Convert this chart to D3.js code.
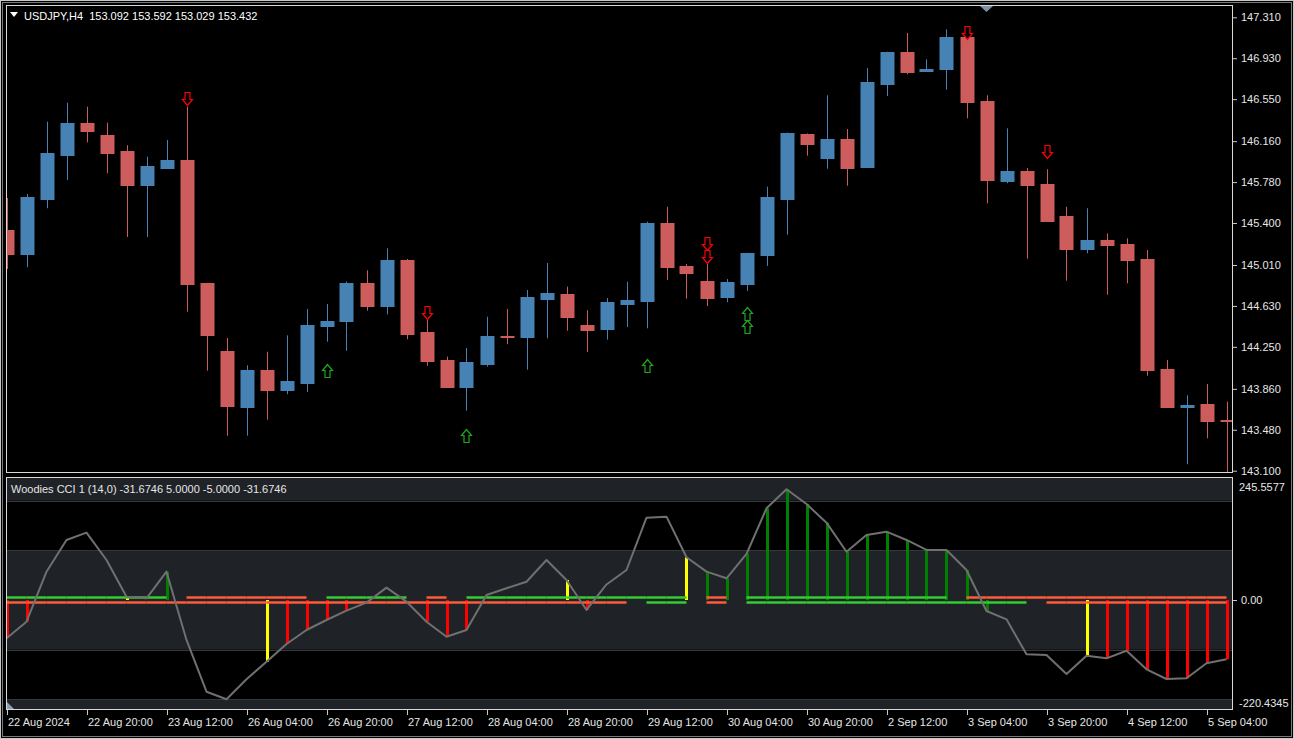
<!DOCTYPE html>
<html><head><meta charset="utf-8">
<script src="https://cdn.jsdelivr.net/npm/d3@7"></script>
<style>html,body{margin:0;padding:0;background:#000;overflow:hidden}text{font-family:"Liberation Sans",Arial,sans-serif;font-size:11px;white-space:pre}</style>
</head><body><svg id="c" width="1294" height="739"></svg>
<script>
// ---------- data ----------
const openP  = [145.335,145.112,145.623,146.029,146.326,146.220,146.069,145.750,145.914,145.988,144.840,144.212,143.698,144.038,143.849,143.917,144.441,144.487,144.840,144.627,145.057,144.385,144.131,143.871,144.091,144.351,144.335,144.694,144.744,144.453,144.416,144.651,144.669,145.397,145.001,144.862,144.707,144.834,145.100,145.623,146.229,146.006,146.183,145.914,146.691,146.985,146.809,146.830,147.124,146.530,145.787,145.880,145.765,145.465,145.161,145.242,145.208,145.069,144.047,143.692,143.722,143.571];
const highP  = [145.632,145.669,146.341,146.517,146.480,146.331,146.122,146.016,146.171,146.480,144.845,144.332,144.079,144.205,144.357,144.602,144.648,144.855,144.961,145.165,145.066,144.499,144.159,144.239,144.530,144.602,144.778,145.029,144.809,144.590,144.704,144.855,145.412,145.551,145.019,145.038,144.880,145.124,145.737,146.240,146.232,146.586,146.273,146.839,146.990,147.164,146.920,147.199,147.155,146.586,146.279,145.911,145.899,145.551,145.537,145.304,145.258,145.149,144.128,143.800,143.905,143.741];
const lowP   = [144.973,144.989,145.537,145.799,146.149,145.862,145.270,145.270,145.901,144.577,144.029,143.425,143.425,143.574,143.810,143.831,144.298,144.214,144.586,144.552,144.320,144.075,143.875,143.657,144.066,144.274,144.038,144.330,144.400,144.202,144.317,144.434,144.422,144.871,144.697,144.629,144.664,144.769,145.001,145.291,146.025,145.904,145.746,145.910,146.579,146.781,146.805,146.638,146.372,145.583,145.769,145.069,145.420,144.864,145.119,144.734,144.840,143.982,143.690,143.160,143.401,143.076];
const closeP = [145.112,145.639,146.047,146.326,146.252,146.053,145.750,145.929,145.988,144.836,144.360,143.698,144.038,143.849,143.933,144.456,144.490,144.840,144.627,145.057,144.372,144.116,143.880,144.107,144.351,144.339,144.710,144.747,144.530,144.407,144.664,144.688,145.397,144.985,144.939,144.707,144.849,145.119,145.639,146.233,146.134,146.183,145.914,146.706,146.985,146.796,146.827,147.124,146.517,145.797,145.880,145.753,145.425,145.159,145.242,145.196,145.057,144.035,143.694,143.706,143.562,143.560];

const downArrowIdx   = [9, 21, 35, 35, 48, 52];
const downArrowPrice = [146.496, 144.509, 145.149, 145.029, 147.106, 146.006];
const upArrowIdx     = [16, 23, 32, 37, 37];
const upArrowPrice   = [144.091, 143.487, 144.137, 144.623, 144.499];

const cciValues = [-77.1,-43.7,57.0,120.8,135.5,80.5,6.6,3.4,57.0,-80.5,-184.6,-199.9,-159.6,-124.2,-88.6,-60.4,-40.3,-21.5,-5.4,24.8,-3.4,-43.7,-73.9,-60.4,10.1,23.6,36.8,80.5,40.3,-20.1,31.2,60.4,165.7,167.7,86.0,57.0,43.7,92.6,184.6,222.8,193.2,155.6,97.2,130.8,137.5,120.8,100.7,100.7,60.4,-22.1,-38.9,-109.3,-110.7,-148.9,-112.1,-117.4,-102.1,-139.5,-159.0,-157.6,-127.4,-119.4];
const histState  = "rr----y-g----yrrrr---rrr----yr----yggggggggggggggg----yrrrrrrrr".split("");
const upperState = "gggggggggrrrrrrrgggggrrggggggggggggrrgggggggggggrrrrrrrrrrrrrr".split("");
const lowerState = "rrrrrrrrrrrrrrrrrrrrrrrrrrrrrrrrgggrrgggggggggggggggrrrrrrrrrr".split("");
const levelUp = 5, levelDn = -5;
const bandLevels = [100, 200];

const priceTicks = ["147.310","146.930","146.550","146.160","145.780","145.400","145.010","144.630","144.250","143.860","143.480","143.100"];
const cciTicks = ["245.5577","0.00","-220.4345"];
const cciDomain = [-220.4345, 245.5577];
const timeLabels = ["22 Aug 2024","22 Aug 20:00","23 Aug 12:00","26 Aug 04:00","26 Aug 20:00","27 Aug 12:00","28 Aug 04:00","28 Aug 20:00","29 Aug 12:00","30 Aug 04:00","30 Aug 20:00","2 Sep 12:00","3 Sep 04:00","3 Sep 20:00","4 Sep 12:00","5 Sep 04:00"];
const labelEvery = 4;
const headerText = "USDJPY,H4  153.092 153.592 153.029 153.432";
const cciTitle = "Woodies CCI 1 (14,0) -31.6746 5.0000 -5.0000 -31.6746";

// ---------- layout ----------
const L = 6, R = 1233, mT = 5, mB = 473, cT = 477, cB = 710;
const n = openP.length;
const x = d3.scaleLinear().domain([0, n - 1]).range([6.5, 6.5 + 20 * (n - 1)]);
const y = d3.scaleLinear().domain([143.100, 147.310]).range([470.7, 17.3]);
const yc = d3.scaleLinear().domain(cciDomain).range([709.5, 478]);

const BULL = "#4682b4", BEAR = "#cd5c5c";
const svg = d3.select("#c");
svg.append("rect").attr("width",1294).attr("height",739).attr("fill","#000");

const defs = svg.append("defs");
defs.append("clipPath").attr("id","cm").append("rect").attr("x",L+0.5).attr("y",mT+0.5).attr("width",R-L-1).attr("height",mB-mT-1);
defs.append("clipPath").attr("id","cc").append("rect").attr("x",L+0.5).attr("y",cT+0.5).attr("width",R-L-1).attr("height",cB-cT-1);

// ---------- main panel ----------
const gm = svg.append("g").attr("clip-path","url(#cm)");
const bars = d3.range(n);
gm.selectAll("line.wick").data(bars).join("line")
  .attr("x1", i => Math.round(x(i)) + 0.5).attr("x2", i => Math.round(x(i)) + 0.5)
  .attr("y1", i => y(highP[i])).attr("y2", i => y(lowP[i]))
  .attr("stroke", i => closeP[i] > openP[i] ? BULL : BEAR).attr("stroke-width",1);
gm.selectAll("rect.body").data(bars).join("rect")
  .attr("x", i => Math.round(x(i)) - 6)
  .attr("width", 13)
  .attr("y", i => Math.round(y(Math.max(openP[i], closeP[i]))) + 0.5)
  .attr("height", i => Math.max(1, Math.round(Math.abs(y(openP[i]) - y(closeP[i])))))
  .attr("fill", i => closeP[i] > openP[i] ? BULL : BEAR)
  .attr("stroke", i => closeP[i] > openP[i] ? BULL : BEAR).attr("stroke-width",1);

const downArrow = "M0,0 L-5,-6 L-2.5,-6 L-2.5,-13 L2.5,-13 L2.5,-6 L5,-6 Z";
const upArrow = "M0,0 L-5,6 L-2.5,6 L-2.5,13 L2.5,13 L2.5,6 L5,6 Z";
gm.selectAll("path.dn").data(downArrowIdx).join("path")
  .attr("d", downArrow)
  .attr("transform", (d,k) => `translate(${Math.round(x(d))+0.5},${Math.round(y(downArrowPrice[k]))+0.5})`)
  .attr("fill","#000").attr("stroke","#ff0000").attr("stroke-width",1.2);
gm.selectAll("path.up").data(upArrowIdx).join("path")
  .attr("d", upArrow)
  .attr("transform", (d,k) => `translate(${Math.round(x(d))+0.5},${Math.round(y(upArrowPrice[k]))+0.5})`)
  .attr("fill","#000").attr("stroke","#1ea81e").attr("stroke-width",1.2);

// ---------- CCI panel ----------
const gc = svg.append("g").attr("clip-path","url(#cc)");
const bandTop = [[cciDomain[1], bandLevels[1]], [bandLevels[0], -bandLevels[0]], [-bandLevels[1], cciDomain[0]]];
gc.selectAll("rect.band").data(bandTop).join("rect")
  .attr("x", L).attr("width", R - L)
  .attr("y", d => yc(d[0])).attr("height", d => yc(d[1]) - yc(d[0]))
  .attr("fill", "#1f2226");
gc.selectAll("line.bl").data([bandLevels[1], bandLevels[0], -bandLevels[0], -bandLevels[1]]).join("line")
  .attr("x1", L).attr("x2", R).attr("y1", d => Math.round(yc(d)) + 0.5).attr("y2", d => Math.round(yc(d)) + 0.5)
  .attr("stroke", "#34373c").attr("stroke-width", 1);

const histCol = {r:"#ff0000", g:"#008000", y:"#ffff00"};
gc.selectAll("rect.hist").data(bars.filter(i => histState[i] !== "-")).join("rect")
  .attr("x", i => Math.round(x(i)) - 1)
  .attr("width", 3)
  .attr("y", i => Math.min(yc(0), yc(cciValues[i])))
  .attr("height", i => Math.abs(yc(cciValues[i]) - yc(0)))
  .attr("fill", i => histCol[histState[i]]);

const lvlCol = {g:"#32cd32", r:"#ff5a3a"};
function levelSegs(state, level) {
  const segs = [];
  for (let i = 0; i < n - 1; i++) if (state[i] === state[i+1]) segs.push({i, c: state[i], v: level});
  return segs;
}
gc.selectAll("line.lvlU").data(levelSegs(upperState, levelUp)).join("line")
  .attr("x1", d => x(d.i)).attr("x2", d => x(d.i + 1))
  .attr("y1", d => yc(d.v)).attr("y2", d => yc(d.v))
  .attr("stroke", d => lvlCol[d.c]).attr("stroke-width", 2.5);
gc.selectAll("line.lvlD").data(levelSegs(lowerState, levelDn)).join("line")
  .attr("x1", d => x(d.i)).attr("x2", d => x(d.i + 1))
  .attr("y1", d => yc(d.v)).attr("y2", d => yc(d.v))
  .attr("stroke", d => lvlCol[d.c]).attr("stroke-width", 2.5);

gc.append("path").datum(cciValues)
  .attr("d", d3.line().x((d,i) => x(i)).y(d => yc(d)))
  .attr("fill","none").attr("stroke","#707070").attr("stroke-width",2).attr("stroke-linejoin","round");

// ---------- frames ----------
svg.append("rect").attr("x",0.5).attr("y",0.5).attr("width",1293).attr("height",738).attr("fill","none").attr("stroke","#c8c8c8");
svg.append("rect").attr("x",2.5).attr("y",2.5).attr("width",1289).attr("height",734).attr("fill","none").attr("stroke","#7a7a7a");
svg.append("rect").attr("x",L+0.5).attr("y",mT+0.5).attr("width",R-L-1).attr("height",mB-mT-1).attr("fill","none").attr("stroke","#d8d8d8");
svg.append("rect").attr("x",L+0.5).attr("y",cT+0.5).attr("width",R-L-1).attr("height",cB-cT-1).attr("fill","none").attr("stroke","#d8d8d8");

// ---------- axes ----------
const yAxis = d3.axisRight(y).tickValues(priceTicks.map(Number)).tickFormat((d,i) => priceTicks[i]).tickSize(4).tickPadding(4);
const ga = svg.append("g").attr("transform", `translate(${R},0)`).call(yAxis);
ga.select(".domain").remove();
ga.selectAll("line").attr("stroke","#c8c8c8");
ga.selectAll("text").attr("fill","#e6e6e6").style("font-family",'"Liberation Sans",Arial,sans-serif').style("font-size","11px");

// CCI axis labels
const cciLabelY = [cT + 10, yc(0), cB - 7];
svg.selectAll("text.cl").data(cciTicks).join("text")
  .attr("x", (d,i) => i === 1 ? R + 8 : R + 6).attr("y", (d,i) => cciLabelY[i]).attr("dy","0.35em")
  .attr("fill","#e6e6e6").text(d => d);
svg.append("line").attr("x1",R).attr("x2",R+4).attr("y1",Math.round(yc(0))+0.5).attr("y2",Math.round(yc(0))+0.5).attr("stroke","#c8c8c8");

// time axis
const tickIdx = timeLabels.map((d,k) => k * labelEvery);
const xt = svg.append("g");
xt.selectAll("line").data(tickIdx).join("line")
  .attr("x1", i => Math.round(x(i)) + 0.5).attr("x2", i => Math.round(x(i)) + 0.5)
  .attr("y1", cB).attr("y2", cB + 5).attr("stroke","#c8c8c8");
xt.selectAll("text").data(tickIdx).join("text")
  .attr("x", i => Math.round(x(i)) + 1).attr("y", 726)
  .attr("fill","#e6e6e6").text((i,k) => timeLabels[k]);

// titles
svg.append("path").attr("d","M10,12 L18,12 L14,17 Z").attr("fill","#ffffff");
svg.append("text").attr("x",24).attr("y",20).attr("fill","#ffffff").text(headerText);
svg.append("text").attr("x",11).attr("y",493).attr("fill","#e6e6e6").text(cciTitle);

// small markers
svg.append("path").attr("d","M980,6 L993,6 L986.5,12 Z").attr("fill","#7d90a3");
svg.append("path").attr("d","M7,702 L7,709 L14,709 Z").attr("fill","#8aa0b4");
</script></body></html>
